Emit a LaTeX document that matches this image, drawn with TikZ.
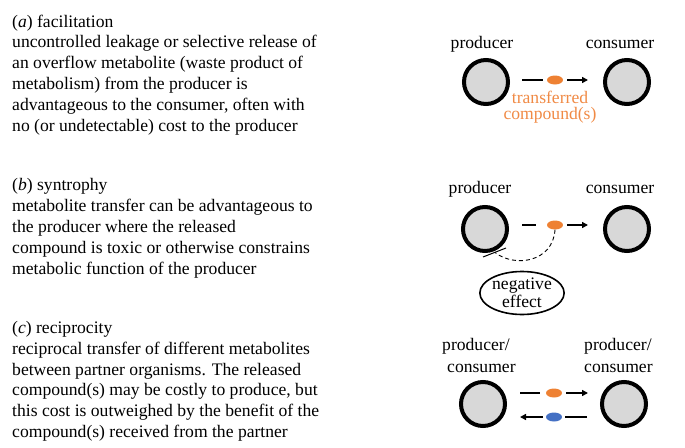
\documentclass[tikz,border=0pt]{standalone}
\usepackage{fontspec}
\setmainfont{Liberation Serif}
\usetikzlibrary{arrows.meta,shapes.geometric}
\definecolor{orng}{HTML}{EE8133}
\definecolor{orngtxt}{HTML}{F08A45}
\definecolor{blu}{HTML}{4470C4}
\definecolor{cellfill}{HTML}{D8D8D8}
\begin{document}
\begin{tikzpicture}[x=1pt,y=-1pt,
  txt/.style={font=\fontsize{17.6}{20.8}\selectfont},
  para/.style={txt,align=left,anchor=north west,inner sep=0pt},
  lbl/.style={txt,anchor=base,inner sep=0pt},
  cell/.style={circle,draw=black,fill=cellfill,line width=4pt,minimum size=44pt,inner sep=0pt},
  blob/.style={ellipse,minimum width=16pt,minimum height=9pt,inner sep=0pt},
  seg/.style={line width=1.8pt},
  arr/.style={line width=1.8pt,-{Triangle[length=6pt,width=6pt]}}]
\useasboundingbox (0,0) rectangle (685,447);
% texts
\node[para] (ta) at (12,14.5) {(\textit{a}) facilitation\\uncontrolled leakage or selective release of\\an overflow metabolite (waste product of\\metabolism) from the producer is\\advantageous to the consumer, often with\\no (or undetectable) cost to the producer};
\node[para] (tb) at (12,178.5) {(\textit{b}) syntrophy\\metabolite transfer can be advantageous to\\the producer where the released\\compound is toxic or otherwise constrains\\metabolic function of the producer};
\node[para] (tc) at (12,321) {(\textit{c}) reciprocity\\reciprocal transfer of different metabolites\\between partner organisms. The released\\compound(s) may be costly to produce, but\\this cost is outweighed by the benefit of the\\compound(s) received from the partner};
% (a)
\node[lbl] (pa) at (482,48) {producer};
\node[lbl] (ca) at (620,48) {consumer};
\node[cell] (p1) at (486,82) {};
\node[cell] (c1) at (627,82) {};
\node[blob,fill=orng] (e1) at (555,80) {};
\coordinate (a1s) at (522,80);
\coordinate (a1m) at (543,80);
\coordinate (a1n) at (567,80);
\coordinate (a1e) at (588,80);
\draw[seg] (a1s) -- (a1m);
\draw[arr] (a1n) -- (a1e);
\node[lbl,text=orngtxt] (tr) at (550,103) {transferred};
\node[lbl,text=orngtxt] (cp) at (550,119.5) {compound(s)};
% (b)
\node[lbl] (pb) at (480,193) {producer};
\node[lbl] (cb) at (620,193) {consumer};
\node[cell] (p2) at (485,229) {};
\node[cell] (c2) at (627,229) {};
\node[blob,fill=orng] (e2) at (555,225) {};
\coordinate (b1s) at (522,225);
\coordinate (b1m) at (536,225);
\coordinate (b1n) at (567,225);
\coordinate (b1e) at (588,225);
\draw[seg] (b1s) -- (b1m);
\draw[arr] (b1n) -- (b1e);
\coordinate (barA) at (483,257);
\coordinate (barB) at (506,248);
\coordinate (barM) at (495,252.5);
\draw[line width=1pt] (barA) -- (barB);
\draw[line width=0.9pt,dash pattern=on 4pt off 3pt] (e2.south) .. controls (553,262) and (515,268) .. (barM);
\node[ellipse,draw,line width=1.6pt,minimum width=82pt,minimum height=43pt,inner sep=0pt,txt,align=center,font=\fontsize{17.6}{18}\selectfont] (neg) at (522,293) {negative\\effect};
% (c)
\node[lbl,anchor=base west] (pc1) at (442,350) {producer/};
\node[lbl,anchor=base west] (cc1) at (447,372) {consumer};
\node[lbl,anchor=base west] (pc2) at (584,350) {producer/};
\node[lbl,anchor=base west] (cc2) at (584,372) {consumer};
\node[cell] (p3) at (483,404) {};
\node[cell] (c3) at (624,404) {};
\node[blob,fill=orng] (e3) at (554,393) {};
\node[blob,fill=blu] (e4) at (554,417) {};
\coordinate (c1s) at (520,393);
\coordinate (c1m) at (540,393);
\coordinate (c1n) at (566,393);
\coordinate (c1e) at (588,393);
\draw[seg] (c1s) -- (c1m);
\draw[arr] (c1n) -- (c1e);
\coordinate (c2s) at (587,417);
\coordinate (c2m) at (565,417);
\coordinate (c2n) at (543,417);
\coordinate (c2e) at (520,417);
\draw[seg] (c2s) -- (c2m);
\draw[arr] (c2n) -- (c2e);
\end{tikzpicture}
\end{document}
